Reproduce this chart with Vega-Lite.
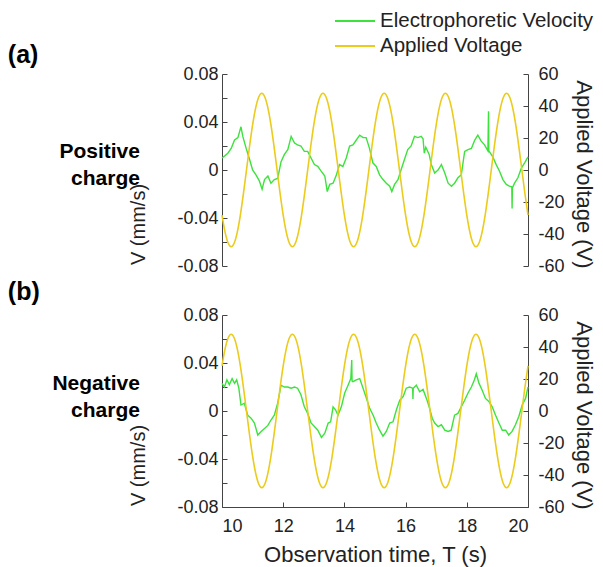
{
"$schema": "https://vega.github.io/schema/vega-lite/v6.json",
"padding": {"left": 7, "top": 10, "right": 12, "bottom": 6},
"config": {"font": "Liberation Sans", "view": {"stroke": null}, "concat": {"spacing": 49},
  "axis": {"grid": false, "tickSize": -5, "labelFontSize": 18, "labelColor": "#222", "domainColor": "#444", "tickColor": "#444", "titleFontSize": 22, "titleFontWeight": "normal", "titleColor": "#222"}},
"bounds": "flush",
"datasets": {
"volt": [
{"t":10.0,"a":-28.21,"b":28.21},{"t":10.1,"a":-38.83,"b":38.83},{"t":10.2,"a":-45.65,"b":45.65},{"t":10.3,"a":-48,"b":48},{"t":10.4,"a":-45.65,"b":45.65},{"t":10.5,"a":-38.83,"b":38.83},{"t":10.6,"a":-28.21,"b":28.21},{"t":10.7,"a":-14.83,"b":14.83},{"t":10.8,"a":0,"b":0},{"t":10.9,"a":14.83,"b":-14.83},
{"t":11.0,"a":28.21,"b":-28.21},{"t":11.1,"a":38.83,"b":-38.83},{"t":11.2,"a":45.65,"b":-45.65},{"t":11.3,"a":48,"b":-48},{"t":11.4,"a":45.65,"b":-45.65},{"t":11.5,"a":38.83,"b":-38.83},{"t":11.6,"a":28.21,"b":-28.21},{"t":11.7,"a":14.83,"b":-14.83},{"t":11.8,"a":0,"b":0},{"t":11.9,"a":-14.83,"b":14.83},
{"t":12.0,"a":-28.21,"b":28.21},{"t":12.1,"a":-38.83,"b":38.83},{"t":12.2,"a":-45.65,"b":45.65},{"t":12.3,"a":-48,"b":48},{"t":12.4,"a":-45.65,"b":45.65},{"t":12.5,"a":-38.83,"b":38.83},{"t":12.6,"a":-28.21,"b":28.21},{"t":12.7,"a":-14.83,"b":14.83},{"t":12.8,"a":0,"b":0},{"t":12.9,"a":14.83,"b":-14.83},
{"t":13.0,"a":28.21,"b":-28.21},{"t":13.1,"a":38.83,"b":-38.83},{"t":13.2,"a":45.65,"b":-45.65},{"t":13.3,"a":48,"b":-48},{"t":13.4,"a":45.65,"b":-45.65},{"t":13.5,"a":38.83,"b":-38.83},{"t":13.6,"a":28.21,"b":-28.21},{"t":13.7,"a":14.83,"b":-14.83},{"t":13.8,"a":0,"b":0},{"t":13.9,"a":-14.83,"b":14.83},
{"t":14.0,"a":-28.21,"b":28.21},{"t":14.1,"a":-38.83,"b":38.83},{"t":14.2,"a":-45.65,"b":45.65},{"t":14.3,"a":-48,"b":48},{"t":14.4,"a":-45.65,"b":45.65},{"t":14.5,"a":-38.83,"b":38.83},{"t":14.6,"a":-28.21,"b":28.21},{"t":14.7,"a":-14.83,"b":14.83},{"t":14.8,"a":0,"b":0},{"t":14.9,"a":14.83,"b":-14.83},
{"t":15.0,"a":28.21,"b":-28.21},{"t":15.1,"a":38.83,"b":-38.83},{"t":15.2,"a":45.65,"b":-45.65},{"t":15.3,"a":48,"b":-48},{"t":15.4,"a":45.65,"b":-45.65},{"t":15.5,"a":38.83,"b":-38.83},{"t":15.6,"a":28.21,"b":-28.21},{"t":15.7,"a":14.83,"b":-14.83},{"t":15.8,"a":0,"b":0},{"t":15.9,"a":-14.83,"b":14.83},
{"t":16.0,"a":-28.21,"b":28.21},{"t":16.1,"a":-38.83,"b":38.83},{"t":16.2,"a":-45.65,"b":45.65},{"t":16.3,"a":-48,"b":48},{"t":16.4,"a":-45.65,"b":45.65},{"t":16.5,"a":-38.83,"b":38.83},{"t":16.6,"a":-28.21,"b":28.21},{"t":16.7,"a":-14.83,"b":14.83},{"t":16.8,"a":0,"b":0},{"t":16.9,"a":14.83,"b":-14.83},
{"t":17.0,"a":28.21,"b":-28.21},{"t":17.1,"a":38.83,"b":-38.83},{"t":17.2,"a":45.65,"b":-45.65},{"t":17.3,"a":48,"b":-48},{"t":17.4,"a":45.65,"b":-45.65},{"t":17.5,"a":38.83,"b":-38.83},{"t":17.6,"a":28.21,"b":-28.21},{"t":17.7,"a":14.83,"b":-14.83},{"t":17.8,"a":0,"b":0},{"t":17.9,"a":-14.83,"b":14.83},
{"t":18.0,"a":-28.21,"b":28.21},{"t":18.1,"a":-38.83,"b":38.83},{"t":18.2,"a":-45.65,"b":45.65},{"t":18.3,"a":-48,"b":48},{"t":18.4,"a":-45.65,"b":45.65},{"t":18.5,"a":-38.83,"b":38.83},{"t":18.6,"a":-28.21,"b":28.21},{"t":18.7,"a":-14.83,"b":14.83},{"t":18.8,"a":0,"b":0},{"t":18.9,"a":14.83,"b":-14.83},
{"t":19.0,"a":28.21,"b":-28.21},{"t":19.1,"a":38.83,"b":-38.83},{"t":19.2,"a":45.65,"b":-45.65},{"t":19.3,"a":48,"b":-48},{"t":19.4,"a":45.65,"b":-45.65},{"t":19.5,"a":38.83,"b":-38.83},{"t":19.6,"a":28.21,"b":-28.21},{"t":19.7,"a":14.83,"b":-14.83},{"t":19.8,"a":0,"b":0},{"t":19.9,"a":-14.83,"b":14.83},
{"t":20.0,"a":-28.21,"b":28.21}
],
"velA": [
{"t":10.0,"v":0.010},{"t":10.1,"v":0.012},{"t":10.19,"v":0.014},{"t":10.3,"v":0.018},{"t":10.41,"v":0.025},{"t":10.52,"v":0.027},{"t":10.62,"v":0.036},{"t":10.68,"v":0.028},{"t":10.79,"v":0.018},{"t":10.9,"v":0.009},
{"t":11.0,"v":0.0},{"t":11.11,"v":-0.004},{"t":11.22,"v":-0.009},{"t":11.31,"v":-0.016},{"t":11.39,"v":-0.008},{"t":11.5,"v":-0.005},{"t":11.6,"v":-0.011},{"t":11.71,"v":-0.008},{"t":11.82,"v":-0.007},{"t":11.93,"v":0.007},
{"t":12.04,"v":0.013},{"t":12.15,"v":0.017},{"t":12.26,"v":0.028},{"t":12.37,"v":0.0225},{"t":12.47,"v":0.021},{"t":12.58,"v":0.020},{"t":12.69,"v":0.0155},{"t":12.8,"v":0.0155},{"t":12.91,"v":0.010},{"t":13.02,"v":0.0045},
{"t":13.13,"v":0.003},{"t":13.24,"v":-0.001},{"t":13.36,"v":-0.005},{"t":13.44,"v":-0.018},{"t":13.52,"v":-0.012},{"t":13.63,"v":-0.011},{"t":13.74,"v":-0.004},{"t":13.84,"v":0.0045},{"t":13.95,"v":0.003},{"t":14.06,"v":0.010},
{"t":14.17,"v":0.020},{"t":14.28,"v":0.021},{"t":14.39,"v":0.025},{"t":14.5,"v":0.029},{"t":14.61,"v":0.027},{"t":14.71,"v":0.027},{"t":14.82,"v":0.018},{"t":14.93,"v":0.006},{"t":15.04,"v":0.003},{"t":15.15,"v":-0.004},
{"t":15.26,"v":-0.008},{"t":15.37,"v":-0.011},{"t":15.48,"v":-0.0135},{"t":15.55,"v":-0.018},{"t":15.64,"v":-0.012},{"t":15.75,"v":-0.008},{"t":15.85,"v":0.0},{"t":15.96,"v":0.0085},{"t":16.07,"v":0.017},{"t":16.18,"v":0.020},
{"t":16.29,"v":0.028},{"t":16.4,"v":0.027},{"t":16.51,"v":0.028},{"t":16.57,"v":0.026},{"t":16.61,"v":0.014},{"t":16.66,"v":0.019},{"t":16.77,"v":0.013},{"t":16.84,"v":0.0045},{"t":16.95,"v":-0.0025},{"t":17.06,"v":0.0},
{"t":17.17,"v":0.0045},{"t":17.28,"v":-0.0025},{"t":17.39,"v":-0.011},{"t":17.5,"v":-0.0135},{"t":17.6,"v":-0.011},{"t":17.71,"v":-0.0065},{"t":17.82,"v":-0.004},{"t":17.93,"v":0.0155},{"t":18.04,"v":0.017},{"t":18.15,"v":0.018},
{"t":18.26,"v":0.025},{"t":18.36,"v":0.029},{"t":18.47,"v":0.024},{"t":18.58,"v":0.021},{"t":18.69,"v":0.016},{"t":18.71,"v":0.049},{"t":18.72,"v":0.016},{"t":18.85,"v":0.011},{"t":18.96,"v":0.0045},{"t":19.07,"v":-0.001},
{"t":19.18,"v":-0.008},{"t":19.29,"v":-0.012},{"t":19.39,"v":-0.0135},{"t":19.47,"v":-0.014},{"t":19.48,"v":-0.032},{"t":19.49,"v":-0.015},{"t":19.56,"v":-0.011},{"t":19.67,"v":-0.0065},{"t":19.78,"v":0.0015},{"t":19.89,"v":0.006},
{"t":20.0,"v":0.011}
],
"velB": [
{"t":10.0,"v":0.023},{"t":10.08,"v":0.020},{"t":10.16,"v":0.026},{"t":10.24,"v":0.022},{"t":10.33,"v":0.027},{"t":10.41,"v":0.023},{"t":10.48,"v":0.026},{"t":10.55,"v":0.019},{"t":10.62,"v":0.005},{"t":10.73,"v":0.0065},
{"t":10.84,"v":-0.0035},{"t":10.95,"v":-0.006},{"t":11.06,"v":-0.010},{"t":11.17,"v":-0.020},{"t":11.28,"v":-0.017},{"t":11.39,"v":-0.0145},{"t":11.5,"v":-0.012},{"t":11.6,"v":-0.0075},{"t":11.71,"v":-0.0035},{"t":11.82,"v":0.0065},
{"t":11.93,"v":0.0215},{"t":12.04,"v":0.020},{"t":12.15,"v":0.020},{"t":12.26,"v":0.019},{"t":12.37,"v":0.020},{"t":12.47,"v":0.019},{"t":12.58,"v":0.0135},{"t":12.69,"v":0.0035},{"t":12.8,"v":-0.002},{"t":12.91,"v":-0.010},
{"t":13.02,"v":-0.013},{"t":13.13,"v":-0.016},{"t":13.25,"v":-0.022},{"t":13.36,"v":-0.0185},{"t":13.47,"v":-0.010},{"t":13.55,"v":-0.009},{"t":13.63,"v":0.0035},{"t":13.71,"v":0.001},{"t":13.79,"v":-0.0035},{"t":13.9,"v":0.0035},
{"t":14.01,"v":0.015},{"t":14.12,"v":0.0215},{"t":14.21,"v":0.027},{"t":14.24,"v":0.0425},{"t":14.25,"v":0.025},{"t":14.28,"v":0.0245},{"t":14.39,"v":0.026},{"t":14.5,"v":0.027},{"t":14.61,"v":0.019},{"t":14.72,"v":0.0105},
{"t":14.83,"v":0.002},{"t":14.94,"v":-0.0035},{"t":15.04,"v":-0.010},{"t":15.15,"v":-0.016},{"t":15.26,"v":-0.021},{"t":15.37,"v":-0.017},{"t":15.48,"v":-0.010},{"t":15.59,"v":-0.009},{"t":15.7,"v":0.001},{"t":15.81,"v":0.009},
{"t":15.92,"v":0.012},{"t":16.02,"v":0.019},{"t":16.13,"v":0.020},{"t":16.23,"v":0.019},{"t":16.24,"v":0.010},{"t":16.25,"v":0.019},{"t":16.35,"v":0.0215},{"t":16.46,"v":0.016},{"t":16.57,"v":0.018},{"t":16.68,"v":0.0105},
{"t":16.77,"v":0.0035},{"t":16.87,"v":-0.006},{"t":16.95,"v":-0.010},{"t":17.06,"v":-0.013},{"t":17.17,"v":-0.0115},{"t":17.28,"v":-0.016},{"t":17.39,"v":-0.017},{"t":17.49,"v":-0.016},{"t":17.6,"v":-0.0035},{"t":17.71,"v":-0.002},
{"t":17.82,"v":0.0035},{"t":17.93,"v":0.009},{"t":18.04,"v":0.015},{"t":18.15,"v":0.020},{"t":18.25,"v":0.026},{"t":18.31,"v":0.031},{"t":18.4,"v":0.023},{"t":18.5,"v":0.0175},{"t":18.61,"v":0.0105},{"t":18.72,"v":0.008},
{"t":18.83,"v":0.0035},{"t":18.94,"v":-0.0035},{"t":19.05,"v":-0.010},{"t":19.16,"v":-0.016},{"t":19.27,"v":-0.016},{"t":19.37,"v":-0.020},{"t":19.48,"v":-0.017},{"t":19.59,"v":-0.0115},{"t":19.7,"v":-0.0045},{"t":19.81,"v":0.005},
{"t":19.92,"v":0.0105},{"t":20.0,"v":0.020}
]
},
"resolve": {"scale": {"y": "independent", "color": "shared"}},
"vconcat": [
{
"width": 306, "height": 192,
"resolve": {"scale": {"y": "independent"}},
"layer": [
{"data": {"name": "velA"},
 "mark": {"type": "line", "strokeWidth": 1.4},
 "encoding": {
  "x": {"field": "t", "type": "quantitative", "scale": {"domain": [10, 20], "nice": false, "zero": false}, "axis": null},
  "y": {"field": "v", "type": "quantitative", "scale": {"domain": [-0.08, 0.08], "nice": false},
        "axis": {"orient": "left", "values": [-0.08,-0.06,-0.04,-0.02,0,0.02,0.04,0.06,0.08],
                 "labelExpr": "abs(round(datum.value*100)) % 4 == 0 ? (datum.value == 0 ? '0' : (datum.value < 0 ? '-' : '') + format(abs(datum.value), '.2f')) : ''",
                 "labelPadding": 9, "title": "V   (mm/s)", "titleFontSize": 20, "titlePadding": 28, "titleY": 150}},
  "color": {"datum": "Electrophoretic Velocity", "type": "nominal",
            "scale": {"domain": ["Electrophoretic Velocity", "Applied Voltage"], "range": ["#3de23d", "#ebcb1c"]},
            "legend": {"title": null, "orient": "none", "legendX": 122, "legendY": -64, "symbolType": "M-2,0H2", "symbolSize": 400, "symbolStrokeWidth": 2, "labelFontSize": 20.5, "labelColor": "#222", "labelOffset": 14, "rowPadding": 3, "labelLimit": 400}}
 }},
{"data": {"name": "volt"},
 "mark": {"type": "line", "strokeWidth": 1.6, "interpolate": "monotone"},
 "encoding": {
  "x": {"field": "t", "type": "quantitative"},
  "y": {"field": "a", "type": "quantitative", "scale": {"domain": [-60, 60], "nice": false},
        "axis": {"orient": "right", "values": [-60,-40,-20,0,20,40,60],
                 "labelExpr": "(datum.value < 0 ? '-' : '') + abs(datum.value)",
                 "labelPadding": 15, "title": "Applied Voltage  (V)", "titlePadding": 7, "titleY": 100}},
  "color": {"datum": "Applied Voltage", "type": "nominal"}
 }},
{"data": {"values": [{"label": "(a)"}]},
 "mark": {"type": "text", "fontSize": 25, "fontWeight": "bold", "align": "left", "baseline": "alphabetic", "color": "#000"},
 "encoding": {"x": {"datum": 3.0, "type": "quantitative"}, "y": {"datum": 0.089, "type": "quantitative", "scale": {"domain": [-0.08, 0.08], "nice": false}, "axis": null}, "text": {"field": "label"}}},
{"data": {"values": [{"label": "Positive\ncharge"}]},
 "mark": {"type": "text", "fontSize": 21, "fontWeight": "bold", "align": "right", "baseline": "middle", "lineBreak": "\n", "lineHeight": 27, "color": "#000"},
 "encoding": {"x": {"datum": 7.32, "type": "quantitative"}, "y": {"datum": 0.015, "type": "quantitative", "scale": {"domain": [-0.08, 0.08], "nice": false}, "axis": null}, "text": {"field": "label"}}}
]
},
{
"width": 306, "height": 192,
"resolve": {"scale": {"y": "independent"}},
"layer": [
{"data": {"name": "velB"},
 "mark": {"type": "line", "strokeWidth": 1.4, "color": "#3de23d"},
 "encoding": {
  "x": {"field": "t", "type": "quantitative", "scale": {"domain": [10, 20], "nice": false, "zero": false},
        "axis": {"values": [10,12,14,16,18,20], "labelPadding": 15, "title": "Observation time, T (s)", "titlePadding": 9}},
  "y": {"field": "v", "type": "quantitative", "scale": {"domain": [-0.08, 0.08], "nice": false},
        "axis": {"orient": "left", "values": [-0.08,-0.06,-0.04,-0.02,0,0.02,0.04,0.06,0.08],
                 "labelExpr": "abs(round(datum.value*100)) % 4 == 0 ? (datum.value == 0 ? '0' : (datum.value < 0 ? '-' : '') + format(abs(datum.value), '.2f')) : ''",
                 "labelPadding": 9, "title": "V   (mm/s)", "titleFontSize": 20, "titlePadding": 28, "titleY": 150}}
 }},
{"data": {"name": "volt"},
 "mark": {"type": "line", "strokeWidth": 1.6, "interpolate": "monotone", "color": "#ebcb1c"},
 "encoding": {
  "x": {"field": "t", "type": "quantitative"},
  "y": {"field": "b", "type": "quantitative", "scale": {"domain": [-60, 60], "nice": false},
        "axis": {"orient": "right", "values": [-60,-40,-20,0,20,40,60],
                 "labelExpr": "(datum.value < 0 ? '-' : '') + abs(datum.value)",
                 "labelPadding": 15, "title": "Applied Voltage  (V)", "titlePadding": 7, "titleY": 100}}
 }},
{"data": {"values": [{"label": "(b)"}]},
 "mark": {"type": "text", "fontSize": 25, "fontWeight": "bold", "align": "left", "baseline": "alphabetic", "color": "#000"},
 "encoding": {"x": {"datum": 3.0, "type": "quantitative"}, "y": {"datum": 0.0925, "type": "quantitative", "scale": {"domain": [-0.08, 0.08], "nice": false}, "axis": null}, "text": {"field": "label"}}},
{"data": {"values": [{"label": "Negative\ncharge"}]},
 "mark": {"type": "text", "fontSize": 21, "fontWeight": "bold", "align": "right", "baseline": "middle", "lineBreak": "\n", "lineHeight": 27, "color": "#000"},
 "encoding": {"x": {"datum": 7.32, "type": "quantitative"}, "y": {"datum": 0.0225, "type": "quantitative", "scale": {"domain": [-0.08, 0.08], "nice": false}, "axis": null}, "text": {"field": "label"}}}
]
}
]
}
